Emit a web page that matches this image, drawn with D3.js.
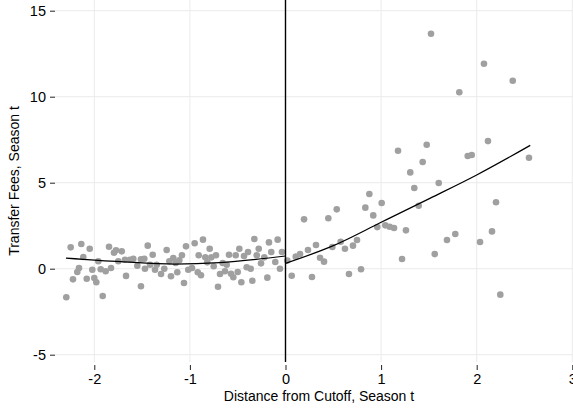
<!DOCTYPE html>
<html>
<head>
<meta charset="utf-8">
<script src="https://cdn.jsdelivr.net/npm/d3@7"></script>
<style>
  html, body { margin: 0; padding: 0; background: #fff; }
  svg text { font-family: "Liberation Sans", Arial, sans-serif; fill: #000; }
</style>
</head>
<body>
<div class="vis-scatter"></div>
<script>
// binned scatter, left of cutoff
const leftX = [-2.247,-2.136,-2.048,-2.115,-1.958,-2.160,-2.178,-2.223,-2.079,-2.021,-2.000,-1.979,-2.293,-1.912,
  -1.933,-1.881,-1.825,-1.846,-1.794,-1.773,-1.713,-1.749,-1.668,-1.679,-1.627,-1.592,-1.550,-1.512,-1.477,-1.512,
  -1.441,-1.389,-1.470,-1.417,-1.347,-1.365,-1.302,-1.268,-1.243,-1.198,-1.215,-1.174,
  -1.149,-1.111,-1.083,-1.132,-1.062,-1.041,-1.017,-0.978,-0.950,-0.918,-0.884,-0.908,-0.863,-0.839,-0.818,-0.793,
  -0.776,-0.727,-0.751,-0.706,-0.685,-0.657,-0.633,-0.615,-0.591,-0.570,-0.546,-0.521,-0.500,-0.483,-0.462,-0.434,
  -0.406,-0.392,-0.364,-0.347,-0.326,-0.301,-0.280,-0.256,-0.222,-0.190,-0.173,-0.149,-0.107,-0.082,-0.058,-0.037];
const leftY = [1.24,1.44,1.16,0.68,0.43,0.04,-0.19,-0.62,-0.58,-0.06,-0.54,-0.79,-1.66,-1.59,
  -0.03,-0.15,0.04,1.28,0.93,1.07,1.01,0.43,-0.42,0.52,0.52,0.58,0.17,0.55,0.58,-1.02,
  1.34,0.81,0.00,0.23,0.23,-0.06,-0.31,0.00,1.09,-0.44,0.43,0.62,
  0.33,0.49,0.78,-0.21,-0.83,1.30,-0.06,0.04,1.48,-0.21,-0.38,0.78,1.69,0.66,0.37,1.16,
  0.66,0.78,0.14,-1.05,-0.31,0.33,-0.15,0.23,0.81,-0.29,-0.50,0.78,-0.19,1.16,-0.79,0.74,
  0.08,0.97,0.00,-0.70,1.73,0.78,1.16,0.31,0.66,-0.52,1.53,0.97,0.39,1.69,0.00,0.97];

// binned scatter, right of cutoff
const rightX = [0.019,0.065,0.107,0.152,0.194,0.235,0.277,0.319,0.361,0.403,0.448,0.490,0.536,0.577,0.622,0.664,
  0.706,0.748,0.790,0.835,0.877,0.918,0.960,1.006,1.044,1.090,1.135,1.177,1.219,1.260,1.305,1.347,1.393,1.435,
  1.477,1.522,1.561,1.603,1.689,1.776,1.818,1.906,1.948,2.035,2.076,2.118,2.160,2.202,2.247,2.377,2.547];
const rightY = [0.47,-0.41,0.70,0.85,2.87,1.09,-0.48,1.38,0.64,0.41,2.93,1.26,3.45,1.57,1.16,-0.31,
  1.34,1.67,-0.03,3.55,4.34,3.10,2.42,3.82,2.52,2.44,2.37,6.86,0.56,2.23,5.60,4.69,3.66,6.20,
  7.21,13.66,0.85,4.98,1.67,2.02,10.26,6.55,6.61,1.55,11.92,7.42,2.17,3.86,-1.51,10.93,6.45];

// fitted curves
const fitLeftX = [-2.296, -1.72, -1.16, -0.69, 0];
const fitLeftY = [0.62, 0.41, 0.27, 0.35, 0.74];
const fitRightX = [0, 0.5, 0.99, 1.51, 2.0, 2.56];
const fitRightY = [0.31, 1.34, 2.67, 4.09, 5.45, 7.17];

const xTicks = [-2, -1, 0, 1, 2, 3];
const yTicks = [-5, 0, 5, 10, 15];

const chartWidth = 573;
const chartHeight = 408;
const plotLeft = 55, plotTop = 0, plotBottom = 362;

const svg = d3.select(".vis-scatter").append("svg")
    .attr("width", chartWidth)
    .attr("height", chartHeight);

let x = d3.scaleLinear().domain([-2, 2]).range([94.3, 476.7]);
let y = d3.scaleLinear().domain([-5, 15]).range([354.7, 10.7]);

// grid
svg.append("g").selectAll("line")
    .data(yTicks).enter().append("line")
    .attr("x1", plotLeft).attr("x2", chartWidth)
    .attr("y1", d => y(d)).attr("y2", d => y(d))
    .attr("stroke", "#ebebeb").attr("stroke-width", 1);
svg.append("g").selectAll("line")
    .data(xTicks).enter().append("line")
    .attr("x1", d => x(d)).attr("x2", d => x(d))
    .attr("y1", plotTop).attr("y2", plotBottom)
    .attr("stroke", "#ebebeb").attr("stroke-width", 1);

// y axis (ticks + labels, no domain line)
const yAxis = svg.append("g")
    .attr("transform", "translate(" + plotLeft + ",0)")
    .call(d3.axisLeft(y).tickValues(yTicks).tickSize(5).tickPadding(4)
      .tickFormat(d => String(d)));
yAxis.select(".domain").remove();
yAxis.selectAll("text").style("font-size", "14.5px").attr("dy", "0.34em");
yAxis.selectAll("line").attr("stroke", "#222");

// x axis
const xAxis = svg.append("g")
    .attr("transform", "translate(0," + (plotBottom + 3) + ")")
    .call(d3.axisBottom(x).tickValues(xTicks).tickSize(5).tickPadding(4)
      .tickFormat(d => String(d)));
xAxis.select(".domain").remove();
xAxis.selectAll("text").style("font-size", "14.5px");
xAxis.selectAll("line").attr("stroke", "#222");

// points
const pts = leftX.map((d, i) => [d, leftY[i]]).concat(rightX.map((d, i) => [d, rightY[i]]));
svg.append("g").selectAll("circle")
    .data(pts).enter().append("circle")
    .attr("cx", d => x(d[0]))
    .attr("cy", d => y(d[1]))
    .attr("r", 3.3)
    .attr("fill", "#a0a0a0");

// fitted lines
const line = d3.line().x(d => x(d[0])).y(d => y(d[1])).curve(d3.curveMonotoneX);
svg.append("path")
    .datum(fitLeftX.map((d, i) => [d, fitLeftY[i]]))
    .attr("d", line).attr("fill", "none").attr("stroke", "#000").attr("stroke-width", 1.2);
svg.append("path")
    .datum(fitRightX.map((d, i) => [d, fitRightY[i]]))
    .attr("d", line).attr("fill", "none").attr("stroke", "#000").attr("stroke-width", 1.2);

// cutoff
svg.append("line")
    .attr("x1", x(0)).attr("x2", x(0))
    .attr("y1", plotTop).attr("y2", plotBottom)
    .attr("stroke", "#000").attr("stroke-width", 1.4);

// axis titles
svg.append("text")
    .attr("x", 319).attr("y", 401)
    .attr("text-anchor", "middle")
    .style("font-size", "14px")
    .text("Distance from Cutoff, Season t");
svg.append("text")
    .attr("transform", "translate(19,181) rotate(-90)")
    .attr("text-anchor", "middle")
    .style("font-size", "14px")
    .text("Transfer Fees, Season t");
</script>
</body>
</html>
